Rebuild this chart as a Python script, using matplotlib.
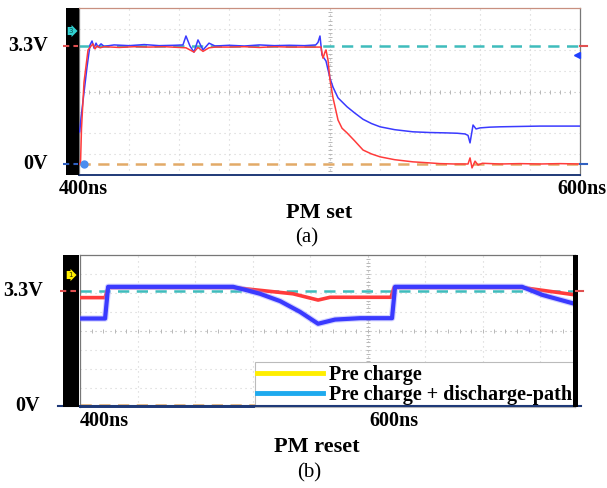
import matplotlib
matplotlib.use("Agg")
import matplotlib.pyplot as plt
from matplotlib.lines import Line2D
from matplotlib.patches import Rectangle
from matplotlib.font_manager import FontProperties
import matplotlib.transforms as mtransforms

# ---------------- data ----------------
# (a) PM set : time in ns, voltage in V
set_t_blue = [400.3, 400.8, 402.0, 403.2, 404.4, 405.2, 406.0, 406.8, 407.6, 408.8, 410.0,
              414, 420, 426, 432, 438, 441.5, 442.7, 444.3, 445.9, 447.5, 449.5, 451.9, 454.3,
              460, 466, 472, 478, 484, 490, 494.5, 495.4, 496.2, 497.0, 497.8, 498.6, 500.2,
              501.4, 503.4, 507.0, 510, 513.4, 516.8, 520.2, 526, 533.3, 540, 546.5, 551,
              554.1, 555.3, 556.1, 557.3, 558.5, 560.1, 564, 568.1, 576, 584, 592, 600]
set_v_blue = [0.90, 1.29, 2.00, 2.71, 3.33, 3.44, 3.24, 3.38, 3.27, 3.36, 3.29,
              3.33, 3.31, 3.34, 3.31, 3.32, 3.33, 3.58, 3.30, 3.13, 3.47, 3.19, 3.38, 3.30,
              3.32, 3.30, 3.33, 3.31, 3.32, 3.31, 3.33, 3.40, 3.58, 3.05, 2.96, 2.88, 2.40,
              2.15, 1.85, 1.60, 1.43, 1.25, 1.13, 1.04, 0.96, 0.90, 0.88, 0.87, 0.86,
              0.84, 0.80, 0.59, 1.09, 0.98, 1.01, 1.03, 1.04, 1.05, 1.06, 1.06, 1.06]

set_t_red = [400.0, 400.6, 401.0, 402.0, 403.6, 404.8, 405.6, 406.4, 407.2, 408.4, 410,
             416, 422, 428, 434, 440, 442.7, 445.9, 447.5, 449.5, 451.9, 454.3, 460, 466,
             472, 478, 484, 490, 495.4, 496.6, 497.0, 497.4, 498.2, 498.6, 499.4, 500.2,
             501.4, 503.4, 505, 507.0, 510, 513.4, 516.8, 520.2, 526, 533.3, 540, 544.1,
             550, 555.3, 556.1, 556.9, 558.1, 559.3, 561, 568, 576, 584, 592, 600]
set_v_red = [0.00, 0.00, 1.00, 2.29, 3.19, 3.30, 3.36, 3.22, 3.30, 3.25, 3.28,
             3.26, 3.28, 3.27, 3.28, 3.26, 3.25, 3.13, 3.26, 3.15, 3.25, 3.27, 3.27, 3.28,
             3.26, 3.28, 3.27, 3.27, 3.27, 3.27, 3.10, 2.96, 3.13, 3.19, 2.91, 2.35,
             1.85, 1.23, 1.00, 0.87, 0.65, 0.39, 0.28, 0.20, 0.12, 0.06, 0.03, 0.01,
             0.00, 0.00, 0.17, -0.11, 0.08, -0.03, 0.02, 0.00, 0.01, 0.00, 0.01, 0.00]

# (b) PM reset : time in ns, voltage in V
reset_t_red = [383.4, 400.7, 402.8, 489.0, 530.3, 547.6, 555.9, 597.9, 600.0, 688.3, 724.8]
reset_v_red = [3.11, 3.11, 3.40, 3.40, 3.22, 3.04, 3.12, 3.12, 3.40, 3.40, 3.19]

reset_t_blue = [383.4, 400.7, 402.8, 489.0, 498.6, 507.6, 521.4, 535.2, 547.6, 559.3,
                576.6, 598.6, 600.7, 688.3, 702.1, 724.8]
reset_v_blue = [2.51, 2.51, 3.42, 3.42, 3.32, 3.22, 3.01, 2.70, 2.36, 2.48,
                2.52, 2.52, 3.42, 3.42, 3.19, 2.93]

v_high = 3.3
v_low = 0.0
legend_labels = ["Pre charge", "Pre charge + discharge-path"]

# ---------------- figure ----------------
W, H = 607, 488
fig = plt.figure(figsize=(W / 100, H / 100), dpi=100)
fig.patch.set_facecolor("white")


def fx(x):
    return x / W


def fy(y):
    return 1 - y / H


SERIF = "Liberation Serif"
bold = dict(family=SERIF, weight="bold")

RED = "#ff3b3b"
BLUE = "#3a3aff"
CYAN = "#3fbcbc"
ORANGE = "#e2aa68"
NAVY = "#1f3a78"


def draw_grid(ax, xfr, yfr, xc, yc):
    for f in xfr:
        col = "#b4b4b4" if abs(f - xc) < 1e-6 else "#d2d2d2"
        ax.plot([f, f], [0, 1], transform=ax.transAxes, ls=(0, (1, 3.5)), lw=0.8,
                color=col, zorder=1)
    for f in yfr:
        col = "#b4b4b4" if abs(f - yc) < 1e-6 else "#d2d2d2"
        ax.plot([0, 1], [f, f], transform=ax.transAxes, ls=(0, (1, 3.5)), lw=0.8,
                color=col, zorder=1)


def style_frame(ax):
    ax.set_xticks([])
    ax.set_yticks([])
    for s in ["top", "right", "left"]:
        ax.spines[s].set_color("#777777")
        ax.spines[s].set_linewidth(0.9)
    ax.spines["bottom"].set_color(NAVY)
    ax.spines["bottom"].set_linewidth(1.4)


# ---------- top panel (a) ----------
ax1 = fig.add_axes([fx(79), fy(175), 501 / W, 167 / H])
ax1.set_xlim(400, 600)
ax1.set_ylim(-0.308, 4.363)
style_frame(ax1)
ax1.spines["top"].set_color("#c89080")
xfr1 = [k / 10 for k in range(1, 10)]
yfr1 = [k / 8 for k in range(1, 8)]
draw_grid(ax1, xfr1, yfr1, 0.5, 0.5)
ax1.plot([k / 50 for k in range(1, 50)], [0.5] * 49, transform=ax1.transAxes, ls="none",
         marker="|", ms=3, mew=0.7, color="#b8b8b8", zorder=1)
ax1.plot([0.5] * 39, [k / 40 for k in range(1, 40)], transform=ax1.transAxes, ls="none",
         marker="_", ms=3, mew=0.7, color="#b8b8b8", zorder=1)

ax1.axhline(v_high, color=CYAN, lw=1.8, ls=(0, (4.5, 3)), zorder=2)
ax1.axhline(v_low, color=ORANGE, lw=1.8, ls=(0, (4.5, 3)), zorder=2)
ax1.plot(set_t_blue, set_v_blue, color=BLUE, lw=1.1, zorder=4)
ax1.plot(set_t_red, set_v_red, color=RED, lw=1.1, zorder=5)
ax1.plot([402], [v_low], marker="o", ms=5, color="#4a8df0", zorder=6, clip_on=False)
ax1.plot([599], [3.05], marker="<", ms=4, color="#2040ff", zorder=6, clip_on=False)

fig.add_artist(Rectangle((fx(66), fy(175)), 13 / W, 167 / H, transform=fig.transFigure,
                         facecolor="black", edgecolor="none", zorder=3))
tr1 = mtransforms.blended_transform_factory(fig.transFigure, ax1.transData)
fig.add_artist(Line2D([fx(63), fx(78)], [v_high, v_high], transform=tr1, color="#e05050",
                      lw=1.5, ls=(0, (3, 2)), zorder=4))
fig.add_artist(Line2D([fx(63), fx(78)], [v_low, v_low], transform=tr1, color="#3060c0",
                      lw=1.5, ls=(0, (3, 2)), zorder=4))
fig.add_artist(Line2D([fx(580), fx(587)], [v_high, v_high], transform=tr1, color="#e05050",
                      lw=1.5, zorder=4))
fig.add_artist(Line2D([fx(580), fx(587)], [v_low, v_low], transform=tr1, color="#3060c0",
                      lw=1.5, zorder=4))
fig.text(fx(71), fy(31), "3", fontsize=5, color="#0a5050", ha="center", va="center",
         zorder=6, bbox=dict(boxstyle="rarrow,pad=0.15", fc="#30d0d0", ec="none"))

fig.text(fx(48), fy(46), "3.3V", fontsize=14.5, ha="right", va="center", **bold)
fig.text(fx(48), fy(164), "0V", fontsize=14.5, ha="right", va="center", **bold)
fig.text(fx(83), fy(189), "400ns", fontsize=14.5, ha="center", va="center", **bold)
fig.text(fx(582), fy(189), "600ns", fontsize=14.5, ha="center", va="center", **bold)
fig.text(fx(319), fy(213), "PM set", fontsize=16, ha="center", va="center", **bold)
fig.text(fx(307), fy(238), "(a)", fontsize=15, ha="center", va="center", family=SERIF)

# ---------- bottom panel (b) ----------
ax2 = fig.add_axes([fx(80), fy(407), 495 / W, 152 / H])
ax2.set_xlim(383.4, 724.8)
ax2.set_ylim(-0.029, 4.333)
style_frame(ax2)
d = 57.5 / 495
xfr2 = [k * d for k in range(1, 9)]
yfr2 = [k / 8 for k in range(1, 8)]
draw_grid(ax2, xfr2, yfr2, 5 * d, 0.5)
ax2.plot([k * d / 5 for k in range(1, 44)], [0.5] * 43, transform=ax2.transAxes, ls="none",
         marker="|", ms=3, mew=0.7, color="#b8b8b8", zorder=1)
ax2.plot([5 * d] * 39, [k / 40 for k in range(1, 40)], transform=ax2.transAxes, ls="none",
         marker="_", ms=3, mew=0.7, color="#b8b8b8", zorder=1)

ax2.axhline(v_high, color=CYAN, lw=1.8, ls=(0, (4.5, 3)), zorder=2)
ax2.axhline(v_low + 0.02, color=ORANGE, lw=1.8, ls=(0, (4.5, 3)), zorder=2)
ax2.plot(reset_t_red, reset_v_red, color=RED, lw=2.6, zorder=4)
ax2.plot(reset_t_blue, reset_v_blue, color="#9090ff", lw=4.6, alpha=0.4, zorder=5)
ax2.plot(reset_t_blue, reset_v_blue, color=BLUE, lw=3.0, zorder=6)

fig.add_artist(Rectangle((fx(63), fy(407)), 16 / W, 152 / H, transform=fig.transFigure,
                         facecolor="black", edgecolor="none", zorder=3))
fig.add_artist(Rectangle((fx(573), fy(407)), 5 / W, 152 / H, transform=fig.transFigure,
                         facecolor="black", edgecolor="none", zorder=3))
tr2 = mtransforms.blended_transform_factory(fig.transFigure, ax2.transData)
fig.add_artist(Line2D([fx(60), fx(76)], [v_high, v_high], transform=tr2, color="#e05050",
                      lw=1.5, ls=(0, (3, 2)), zorder=4))
fig.add_artist(Line2D([fx(58), fx(581)], [v_low, v_low], transform=tr2, color=NAVY,
                      lw=1.5, zorder=2))
fig.add_artist(Line2D([fx(576), fx(583)], [v_high, v_high], transform=tr2, color="#e05050",
                      lw=1.5, zorder=4))
fig.text(fx(70), fy(275), "1", fontsize=5, color="#333300", ha="center", va="center",
         zorder=6, bbox=dict(boxstyle="rarrow,pad=0.15", fc="#ffee00", ec="none"))

handles = [Line2D([0], [0], color="#ffee00", lw=3.5),
           Line2D([0], [0], color="#1eaaee", lw=3.5)]
leg = ax2.legend(handles, legend_labels, loc="lower right", bbox_to_anchor=(1.0, 0.0),
                 bbox_transform=ax2.transAxes, borderaxespad=0.0,
                 prop=FontProperties(family=SERIF, weight="bold", size=14.5),
                 handlelength=3.3, handletextpad=0.3, labelspacing=0.0, borderpad=0.12,
                 fancybox=False, framealpha=1.0, edgecolor="#bbbbbb")
leg.get_frame().set_linewidth(0.8)
leg.set_zorder(8)

fig.text(fx(43), fy(291), "3.3V", fontsize=14.5, ha="right", va="center", **bold)
fig.text(fx(40), fy(406), "0V", fontsize=14.5, ha="right", va="center", **bold)
fig.text(fx(104), fy(421), "400ns", fontsize=14.5, ha="center", va="center", **bold)
fig.text(fx(394), fy(421), "600ns", fontsize=14.5, ha="center", va="center", **bold)
fig.text(fx(317), fy(447), "PM reset", fontsize=16, ha="center", va="center", **bold)
fig.text(fx(309), fy(473), "(b)", fontsize=15, ha="center", va="center", family=SERIF)

fig.savefig("out.png", dpi=100, facecolor="white")
